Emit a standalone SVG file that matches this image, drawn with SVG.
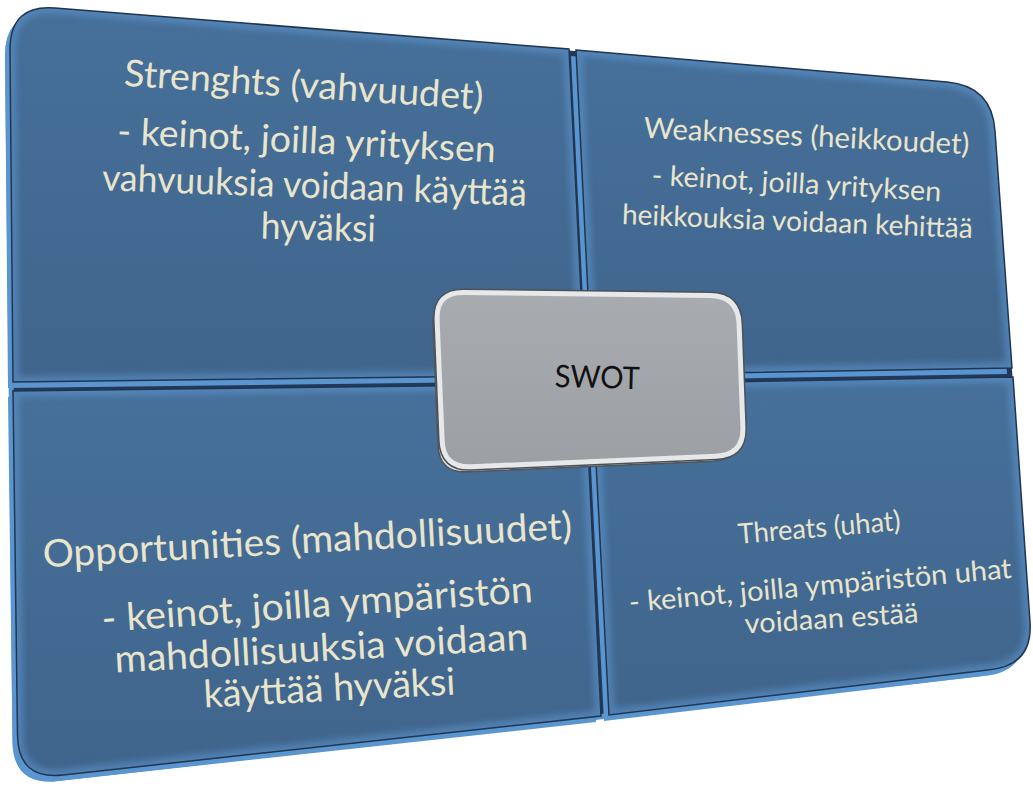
<svg xmlns="http://www.w3.org/2000/svg" xmlns:xlink="http://www.w3.org/1999/xlink" width="1033" height="787" viewBox="0 0 1033 787">
<defs>
<style>
.side{fill:#5b95d0}
.back{fill:#22395a}
.face{fill:url(#faceGrad)}
.bevel{fill:none;stroke:#5d93cb;stroke-width:12;opacity:.6}
.edge{fill:none;stroke:#1f3650;stroke-width:1.5}
.t{font-family:Lato,"Liberation Sans",sans-serif;fill:#e9e4cc;text-anchor:middle}
.sw{font-family:Lato,"Liberation Sans",sans-serif;fill:#111;text-anchor:middle}
</style>
<linearGradient id="faceGrad" x1="0" y1="0" x2="0" y2="1">
<stop offset="0" stop-color="#46709a"/>
<stop offset="1" stop-color="#40658c"/>
</linearGradient>
<linearGradient id="grayGrad" x1="0" y1="0" x2="0" y2="1">
<stop offset="0" stop-color="#a8acb1"/>
<stop offset="1" stop-color="#9ca0a5"/>
</linearGradient>
<filter id="blur" x="-5%" y="-5%" width="110%" height="110%"><feGaussianBlur stdDeviation="3"/></filter>
<path id="pOuter" d="M 10,50 Q 10,4 55,8 L 947,82 Q 992,86 995,131 L 1030,622 Q 1033,666 988,670 L 63,775 Q 18,780 17.5,735 Z"/>
<path id="pTL" d="M 10,50 Q 10,4 55,8 L 569,49 L 585,375 L 13,382 Z"/>
<path id="pTR" d="M 576,50 L 947,82 Q 992,86 995,131 L 1012,368 L 592,375 Z"/>
<path id="pBL" d="M 13,391 L 585,384 L 601,716 L 63,775 Q 18,780 17.5,735 Z"/>
<path id="pBR" d="M 592,384 L 1013,377 L 1030,622 Q 1033,666 988,670 L 609,715 Z"/>
<clipPath id="cTL"><use xlink:href="#pTL"/></clipPath>
<clipPath id="cTR"><use xlink:href="#pTR"/></clipPath>
<clipPath id="cBL"><use xlink:href="#pBL"/></clipPath>
<clipPath id="cBR"><use xlink:href="#pBR"/></clipPath>
<path id="pSwot" d="M 437.1,320 Q 436,292 464,292.4 L 710,295.6 Q 738,296 739.1,324 L 742.9,427 Q 744,455 716,456.2 L 471,466.8 Q 443,468 442.1,440 Z"/>
</defs>

<g id="base">
<use xlink:href="#pOuter" class="side" transform="translate(-5,6)"/>
<use xlink:href="#pOuter" class="back"/>
</g>

<g id="strengths">
<use xlink:href="#pTL" class="side" transform="translate(-5,6)"/>
<use xlink:href="#pTL" class="face"/>
<g clip-path="url(#cTL)"><use xlink:href="#pTL" class="bevel" filter="url(#blur)"/></g>
<use xlink:href="#pTL" class="edge"/>
<text class="t" font-size="37" textLength="360" lengthAdjust="spacingAndGlyphs" transform="translate(303,97.6) rotate(3.8)">Strenghts (vahvuudet)</text>
<text class="t" font-size="37" textLength="379" lengthAdjust="spacingAndGlyphs" transform="translate(306,153) rotate(2.8)">- keinot, joilla yrityksen</text>
<text class="t" font-size="37" textLength="425" lengthAdjust="spacingAndGlyphs" transform="translate(314,198) rotate(2.1)">vahvuuksia voidaan käyttää</text>
<text class="t" font-size="37" textLength="115" lengthAdjust="spacingAndGlyphs" transform="translate(318,240) rotate(1.5)">hyväksi</text>
</g>

<g id="weaknesses">
<use xlink:href="#pTR" class="side" transform="translate(-5,6)"/>
<use xlink:href="#pTR" class="face"/>
<g clip-path="url(#cTR)"><use xlink:href="#pTR" class="bevel" filter="url(#blur)"/></g>
<use xlink:href="#pTR" class="edge"/>
<text class="t" font-size="29" textLength="326" lengthAdjust="spacingAndGlyphs" transform="translate(806,146) rotate(2.9)">Weaknesses (heikkoudet)</text>
<text class="t" font-size="28" textLength="290" lengthAdjust="spacingAndGlyphs" transform="translate(796,193) rotate(3.3)">- keinot, joilla yrityksen</text>
<text class="t" font-size="28" textLength="351" lengthAdjust="spacingAndGlyphs" transform="translate(797,231) rotate(2.3)">heikkouksia voidaan kehittää</text>
</g>

<g id="opportunities">
<use xlink:href="#pBL" class="side" transform="translate(-5,6)"/>
<use xlink:href="#pBL" class="face"/>
<g clip-path="url(#cBL)"><use xlink:href="#pBL" class="bevel" filter="url(#blur)"/></g>
<use xlink:href="#pBL" class="edge"/>
<text class="t" font-size="38" textLength="530" lengthAdjust="spacingAndGlyphs" transform="translate(308,553) rotate(-3.1)">Opportunities (mahdollisuudet)</text>
<text class="t" font-size="38" textLength="432" lengthAdjust="spacingAndGlyphs" transform="translate(318,617) rotate(-4)">- keinot, joilla ympäristön</text>
<text class="t" font-size="38" textLength="414" lengthAdjust="spacingAndGlyphs" transform="translate(322,661) rotate(-3.2)">mahdollisuuksia voidaan</text>
<text class="t" font-size="38" textLength="252" lengthAdjust="spacingAndGlyphs" transform="translate(330,701) rotate(-3)">käyttää hyväksi</text>
</g>

<g id="threats">
<use xlink:href="#pBR" class="side" transform="translate(-5,6)"/>
<use xlink:href="#pBR" class="face"/>
<g clip-path="url(#cBR)"><use xlink:href="#pBR" class="bevel" filter="url(#blur)"/></g>
<use xlink:href="#pBR" class="edge"/>
<text class="t" font-size="28" textLength="163" lengthAdjust="spacingAndGlyphs" transform="translate(820,537) rotate(-4.8)">Threats (uhat)</text>
<text class="t" font-size="28" textLength="384" lengthAdjust="spacingAndGlyphs" transform="translate(821,595) rotate(-5.1)">- keinot, joilla ympäristön uhat</text>
<text class="t" font-size="28" textLength="174" lengthAdjust="spacingAndGlyphs" transform="translate(832,628) rotate(-3.7)">voidaan estää</text>
</g>

<g id="connectors"/>

<g id="swot">
<use xlink:href="#pSwot" transform="translate(-4,5)" fill="#dfe2e5" stroke="#4f555b" stroke-width="1.5"/>
<use xlink:href="#pSwot" fill="none" stroke="#4d5257" stroke-width="8"/>
<use xlink:href="#pSwot" fill="url(#grayGrad)" stroke="#e6e8ea" stroke-width="5"/>
<text class="sw" font-size="31" textLength="85" lengthAdjust="spacingAndGlyphs" transform="translate(597,388) rotate(1.5)">SWOT</text>
</g>
</svg>
